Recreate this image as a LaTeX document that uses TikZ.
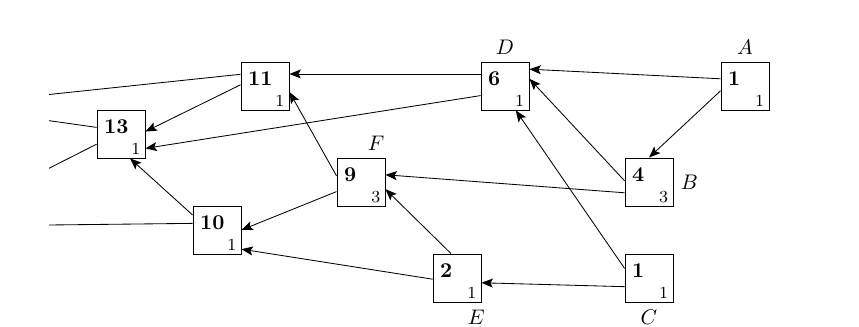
\documentclass[tikz,border=0pt]{standalone}
\usepackage{tikz}
\usetikzlibrary{positioning, arrows.meta}

\begin{document}
\begin{tikzpicture}[
    node distance=0.8cm, on grid,
    blk/.style={draw, minimum size=0.8cm, inner sep=0pt},
    num/.style={anchor=north west, inner sep=0pt, font=\bfseries, xshift=0.12cm, yshift=-0.16cm},
    cnt/.style={anchor=south east, inner sep=0pt, font=\footnotesize, xshift=-0.08cm, yshift=0.05cm},
    arrow/.style={-{Stealth[length=1.9mm, width=1.5mm, inset=0.4mm]}},
]
\useasboundingbox (-2.017,-3.217) rectangle (12.3,2.233);

% --- Boxes (grid of 0.8cm) ---
\node[blk, label={[num]north west:13}, label={[cnt]south east:1}] (n13) {};
\node[blk, above right=0.8cm and 2.4cm of n13,
      label={[num]north west:11}, label={[cnt]south east:1}] (n11) {};
\node[blk, below right=1.6cm and 1.6cm of n13,
      label={[num]north west:10}, label={[cnt]south east:1}] (n10) {};
\node[blk, below right=1.6cm and 1.6cm of n11,
      label={[num]north west:9}, label={[cnt]south east:3},
      label={[xshift=0.25cm]above:$F$}] (n9) {};
\node[blk, below right=1.6cm and 1.6cm of n9,
      label={[num]north west:2}, label={[cnt]south east:1},
      label={[xshift=0.32cm]below:$E$}] (n2) {};
\node[blk, right=4cm of n11,
      label={[num]north west:6}, label={[cnt]south east:1},
      label=above:$D$] (n6) {};
\node[blk, right=4cm of n6,
      label={[num]north west:1}, label={[cnt]south east:1},
      label=above:$A$] (n1a) {};
\node[blk, below right=1.6cm and 2.4cm of n6,
      label={[num]north west:4}, label={[cnt]south east:3},
      label=right:$B$] (n4) {};
\node[blk, below=1.6cm of n4,
      label={[num]north west:1}, label={[cnt]south east:1},
      label=below:$C$] (n1c) {};

% --- Free ends (cut off at the left) ---
\coordinate (outA) at (-1.2,0.658);
\coordinate (outB) at (-1.2,0.222);
\coordinate (outC) at (-1.2,-0.572);
\coordinate (outD) at (-1.2,-1.517);

% --- Arrows ---
\draw[arrow] ([yshift=0.12cm]n1a.west) -- ([yshift=0.28cm]n6.east);
\draw[arrow] ([yshift=-0.08cm]n1a.west) -- (n4.north);
\draw[arrow] ([yshift=0.02cm]n4.west) -- ([yshift=0.12cm]n6.east);
\draw[arrow] ([yshift=-0.18cm]n4.west) -- ([yshift=0.12cm]n9.east);
\draw[arrow] ([yshift=0.16cm]n1c.west) -- ([xshift=0.18cm]n6.south);
\draw[arrow] ([yshift=-0.145cm]n1c.west) -- ([yshift=-0.08cm]n2.east);
\draw[arrow] ([xshift=-0.1cm]n2.north) -- ([yshift=-0.12cm]n9.east);
\draw[arrow] ([yshift=-0.02cm]n2.west) -- ([yshift=-0.32cm]n10.east);
\draw[arrow] ([yshift=0.2cm]n6.west) -- ([yshift=0.2cm]n11.east);
\draw[arrow] ([yshift=-0.16cm]n6.west) -- ([yshift=-0.24cm]n13.east);
\draw[arrow] ([yshift=0.1cm]n9.west) -- ([yshift=-0.1cm]n11.east);
\draw[arrow] ([yshift=-0.16cm]n9.west) -- (n10.east);
\draw[arrow] ([yshift=0.02cm]n11.west) -- ([yshift=0.04cm]n13.east);
\draw[arrow] ([yshift=0.25cm]n10.west) -- ([xshift=0.15cm]n13.south);

% --- Lines leaving the picture ---
\draw ([yshift=0.195cm]n11.west) -- (outA);
\draw ([yshift=0.11cm]n13.west) -- (outB);
\draw ([yshift=-0.17cm]n13.west) -- (outC);
\draw ([yshift=0.11cm]n10.west) -- (outD);
\end{tikzpicture}
\end{document}
